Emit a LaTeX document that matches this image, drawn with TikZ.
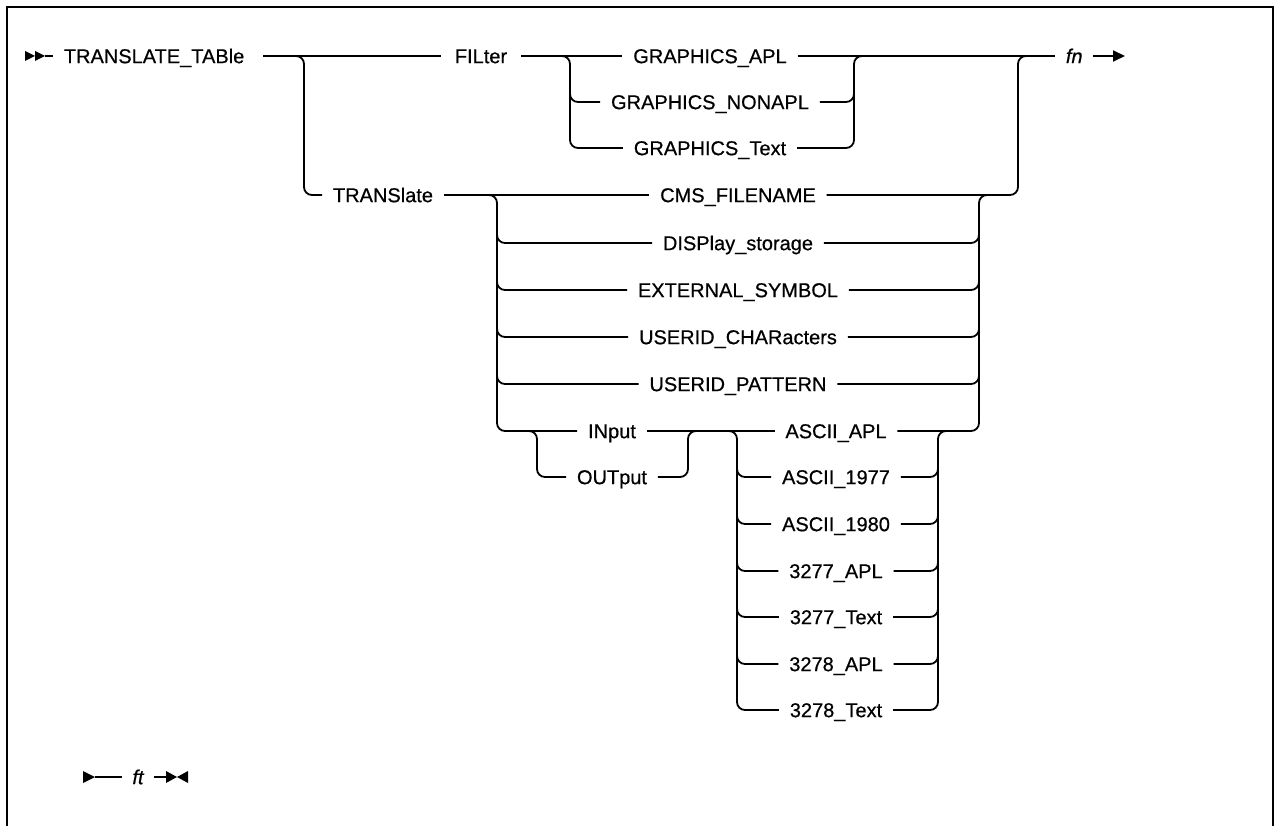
\documentclass[tikz,border=0pt]{standalone}
\usepackage{fontspec}
\setmainfont{Liberation Sans}
\newfontfamily\medfont[FakeBold=0.6]{Liberation Sans}
\usetikzlibrary{arrows.meta}
\begin{document}
\begin{tikzpicture}[x=1pt,y=-1pt,line width=1.8pt,
  item/.style={font=\medfont\fontsize{20}{24}\selectfont,inner xsep=10pt,inner ysep=0pt,text height=14.3pt,text depth=0pt},
  itemit/.style={item,font=\medfont\fontsize{20}{24}\selectfont\itshape},
  rc/.style={rounded corners=8pt},
  frame/.style={line width=2.5pt}]
\useasboundingbox (0,0) rectangle (1274,826);
\draw[frame] (7,826) -- (7,7) -- (1273,7) -- (1273,826);

% nodes
\node[item,anchor=west] (tt) at (53,56) {TRANSLATE\_TABle};
\node[item,inner xsep=13pt] (filter) at (481,56) {FILter};
\node[item] (trans) at (383,195) {TRANSlate};
\node[item] (gapl) at (710,56) {GRAPHICS\_APL};
\node[item] (gnon) at (710,102) {GRAPHICS\_NONAPL};
\node[item] (gtext) at (710,148) {GRAPHICS\_Text};
\node[item] (cms) at (738,195) {CMS\_FILENAME};
\node[item] (disp) at (738,243) {DISPlay\_storage};
\node[item] (ext) at (738,290) {EXTERNAL\_SYMBOL};
\node[item] (uc) at (738,337) {USERID\_CHARacters};
\node[item] (up) at (738,384) {USERID\_PATTERN};
\node[item] (inp) at (612,431) {INput};
\node[item] (outp) at (612,477) {OUTput};
\node[item] (a1) at (836,431) {ASCII\_APL};
\node[item] (a2) at (836,477) {ASCII\_1977};
\node[item] (a3) at (836,524) {ASCII\_1980};
\node[item] (a4) at (836,571) {3277\_APL};
\node[item] (a5) at (836,617) {3277\_Text};
\node[item] (a6) at (836,664) {3278\_APL};
\node[item] (a7) at (836,710) {3278\_Text};
\node[itemit,anchor=west] (fn) at (1055,56) {fn};
\node[itemit] (ft) at (138,777) {ft};

% start marker
\coordinate (s0) at (45,56);
\fill (25,51) -- (35,56) -- (25,61) -- cycle;
\fill (35,51) -- (45,56) -- (35,61) -- cycle;
\draw (s0) -- (tt.west);

% main row
\coordinate (ttend) at (263,56);
\draw (ttend) -- (filter.west);
\draw (filter.east) -- (gapl.west);
\draw (gapl.east) -- (fn.west);
\coordinate (fnend) at (1125,56);
\draw[-{Triangle[length=12pt,width=11pt]}] (fn.east) -- (fnend);

% first choice: FILter / TRANSlate
\draw[rc] (292,56) -- (304,56) -- (304,195) -- (trans.west);
\draw[rc] (cms.east) -- (1018,195) -- (1018,56) -- (1030,56);

% filter group
\draw[rc] (558,56) -- (570,56) -- (570,148) -- (gtext.west);
\draw[rc] (570,88) -- (570,102) -- (gnon.west);
\draw[rc] (gtext.east) -- (854,148) -- (854,56) -- (866,56);
\draw[rc] (gnon.east) -- (854,102) -- (854,88);

% translate group
\draw (trans.east) -- (cms.west);
\draw[rc] (485,195) -- (497,195) -- (497,431) -- (inp.west);
\foreach \n/\yy in {disp/243,ext/290,uc/337,up/384}{
  \draw[rc] (497,\yy-14) -- (497,\yy) -- (\n.west);
  \draw[rc] (\n.east) -- (979,\yy) -- (979,\yy-14);
}
\draw[rc] (a1.east) -- (979,431) -- (979,195) -- (991,195);

% input / output
\draw[rc] (525,431) -- (537,431) -- (537,477) -- (outp.west);
\draw[rc] (outp.east) -- (688,477) -- (688,431) -- (700,431);
\draw (inp.east) -- (a1.west);

% ascii group
\draw[rc] (725,431) -- (737,431) -- (737,710) -- (a7.west);
\draw[rc] (a7.east) -- (938,710) -- (938,431) -- (950,431);
\foreach \n/\yy in {a2/477,a3/524,a4/571,a5/617,a6/664}{
  \draw[rc] (737,\yy-14) -- (737,\yy) -- (\n.west);
  \draw[rc] (\n.east) -- (938,\yy) -- (938,\yy-14);
}

% bottom: ft
\coordinate (f0) at (95,777);
\coordinate (f1) at (167,777);
\fill (83,771) -- (95,777) -- (83,783) -- cycle;
\draw (f0) -- (ft.west);
\draw (ft.east) -- (f1);
\fill (166,771) -- (177,777) -- (166,783) -- cycle;
\fill (188,771) -- (177,777) -- (188,783) -- cycle;
\end{tikzpicture}
\end{document}
